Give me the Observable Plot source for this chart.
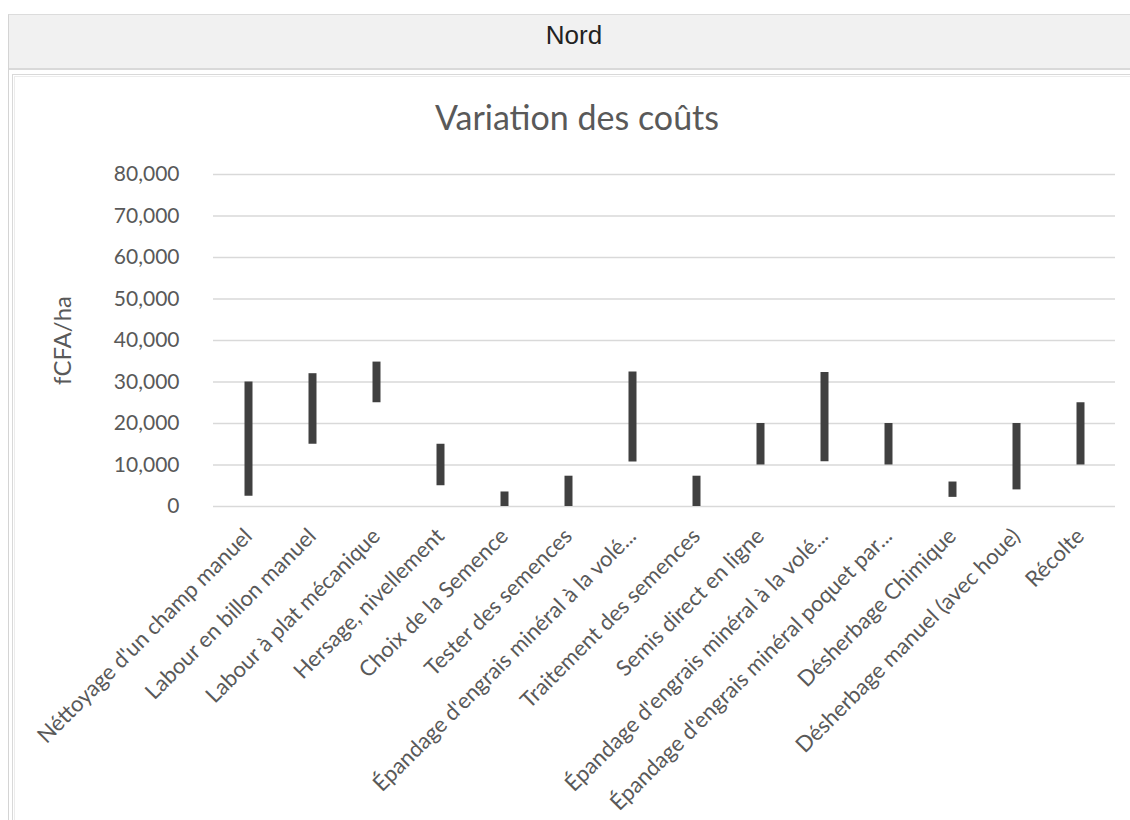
<!DOCTYPE html>
<html><head><meta charset="utf-8">
<script src="https://cdn.jsdelivr.net/npm/d3@7"></script>
<script src="https://cdn.jsdelivr.net/npm/@observablehq/plot@0.6"></script>
<style>
html,body{margin:0;padding:0;background:#fff;}
body{width:1130px;height:820px;overflow:hidden;position:relative;font-family:Lato,sans-serif;}
#outer{position:absolute;left:8px;top:14px;width:1200px;height:900px;border-left:1px solid #d4d4d4;border-top:1px solid #dcdcdc;}
#hdr{position:absolute;left:9px;top:15px;width:1200px;height:53px;background:#f1f1f1;border-bottom:2px solid #d9d9d9;}
#nord{position:absolute;left:8px;width:1132px;top:22px;line-height:26px;text-align:center;font-family:"Liberation Sans",Arial,sans-serif;font-size:26px;color:#222;}
#f1{position:absolute;left:12px;top:74px;width:1200px;height:900px;border-left:1px solid #d9d9d9;border-top:1px solid #d9d9d9;}
#f2{position:absolute;left:14px;top:76px;width:1200px;height:900px;border-left:1px solid #ececec;border-top:1px solid #ececec;}
#title{position:absolute;left:0;width:1154px;top:100px;line-height:34px;text-align:center;font-size:34px;color:#595959;font-family:Lato,sans-serif;}
#chart{position:absolute;left:0;top:150px;}
</style>
</head><body>
<div id="outer"></div>
<div id="hdr"></div>
<div id="nord"></div>
<div id="f1"></div><div id="f2"></div>
<div id="title"></div>
<div id="chart"></div>
<script>
const panelTitle = "Nord";
const chartTitle = "Variation des coûts";
const yLabel = "fCFA/ha";
const categories = [
  "Néttoyage d'un champ manuel",
  "Labour en billon manuel",
  "Labour à plat mécanique",
  "Hersage, nivellement",
  "Choix de la Semence",
  "Tester des semences",
  "Épandage d'engrais minéral à la volé...",
  "Traitement des semences",
  "Semis direct en ligne",
  "Épandage d'engrais minéral à la volé...",
  "Épandage d'engrais minéral poquet par...",
  "Désherbage Chimique",
  "Désherbage manuel (avec houe)",
  "Récolte"
];
const lowValues  = [2500, 15000, 25000, 5000, 0, 0, 10700, 0, 10000, 10800, 10000, 2200, 4000, 10000];
const highValues = [30000, 32000, 34800, 15000, 3500, 7300, 32400, 7300, 20000, 32300, 20000, 5900, 20000, 25000];
const yTicks = [0, 10000, 20000, 30000, 40000, 50000, 60000, 70000, 80000];

document.getElementById("nord").textContent = panelTitle;
document.getElementById("title").textContent = chartTitle;

// categories with duplicate labels need unique keys
const keys = categories.map((c, i) => i);
const data = categories.map((c, i) => ({key: i, cat: c, low: lowValues[i], high: highValues[i]}));

const chart = Plot.plot({
  width: 1130,
  height: 670,
  marginLeft: 213,
  marginRight: 15,
  marginTop: 24,
  marginBottom: 314,
  style: {fontFamily: "Lato, sans-serif", color: "#595959", background: "transparent", overflow: "visible"},
  x: {type: "band", domain: keys, padding: 0},
  y: {domain: [0, 80000]},
  marks: [
    Plot.ruleY(yTicks, {stroke: "#d9d9d9", strokeWidth: 1.5}),
    Plot.ruleX(data, {x: "key", y1: "low", y2: "high", stroke: "#404040", strokeWidth: 8}),
    Plot.axisY({ticks: yTicks, tickFormat: d3.format(","), tickSize: 0, tickPadding: 34, fontSize: 21, label: null}),
    Plot.axisX({tickSize: 0, tickRotate: -45, tickPadding: 26, fontSize: 22, label: null, tickFormat: i => categories[i]}),
    Plot.text([yLabel], {frameAnchor: "left", text: d => d, rotate: -90, dx: -150, textAnchor: "middle", fontSize: 24, fill: "#595959"})
  ]
});
document.getElementById("chart").appendChild(chart);
</script>
</body></html>
